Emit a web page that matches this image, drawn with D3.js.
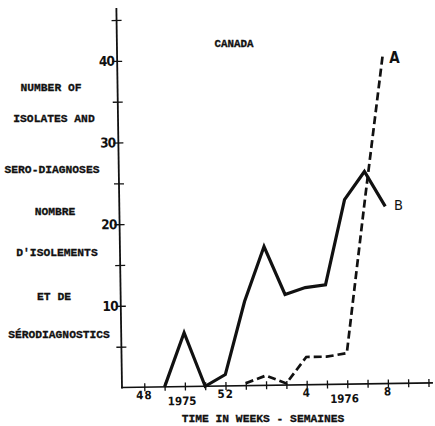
<!DOCTYPE html>
<html lang="en">
<head>
<meta charset="UTF-8">
<title>Canada</title>
<script src="https://cdn.jsdelivr.net/npm/d3@7"></script>
<style>
    body{ margin: 0; background: #fff; }
    .mono{ font-family: "Liberation Mono", "DejaVu Sans Mono", monospace; font-weight: bold; fill: #111; stroke: #111; stroke-width: 0.3; }
    .num{ font-family: "DejaVu Sans Condensed", "DejaVu Sans", sans-serif; font-weight: bold; fill: #111; }
</style>
</head>
<body>
<svg id="chart" width="435" height="426"></svg>
<script>
    // weeks along the x axis, 1975 wk 48 .. 1976 wk 10
    let weeks = ["48","49","50","51","52","1","2","3","4","5","6","7","8","9","10"]
    let weekLabels = ["48","52","4","8"]
    let yearWeeks = ["50","6"]
    let years = ["1975","1976"]

    // curve B (solid)
    let weeksB = ["49","50","51","52","1","2","3","4","5","6","7","8"]
    let countsB = [0, 6.6, 0, 1.4, 10.3, 17, 11.1, 11.9, 12.2, 22.6, 26, 21.7]
    // curve A (dashed)
    let weeksA = ["1","2","3","4","5","6","7","8"]
    let countsA = [0.3, 1.2, 0.2, 3.4, 3.4, 3.8, 22.5, 40.5]

    let yTicks = [5,10,15,20,25,30,35,40,45]
    let yLabels = [10,20,30,40]

    let leftLines = ["NUMBER OF","ISOLATES AND","SERO-DIAGNOSES","NOMBRE","D'ISOLEMENTS","ET DE","SÉRODIAGNOSTICS"]

    let svg = d3.select("#chart")
    let x0 = 122, y0 = 387.5

    let x = d3.scalePoint()
        .domain(weeks)
        .range([144.3, 428.5])
    let y = d3.scaleLinear()
        .domain([0, 45])
        .range([y0, 20])

    // the scan is tilted a little, so the plot is too
    let plot = svg.append("g")
        .attr("transform", `rotate(-0.85,${x0},${y0})`)

    // axes lines
    plot.append("line")
        .attr("x1", x0).attr("y1", y0 + 1)
        .attr("x2", x0).attr("y2", 8)
        .attr("stroke", "#111").attr("stroke-width", 1.8)
    plot.append("line")
        .attr("x1", x0 - 1).attr("y1", y0)
        .attr("x2", 433).attr("y2", y0)
        .attr("stroke", "#111").attr("stroke-width", 1.6)

    // x ticks
    let gx = plot.append("g")
        .attr("transform", `translate(0,${y0})`)
        .call(d3.axisBottom(x).tickSize(4).tickFormat(""))
    gx.select(".domain").remove()
    gx.selectAll(".tick line")
        .attr("y1", -4).attr("y2", 4)
        .attr("stroke", "#111").attr("stroke-width", 1.3)

    gx.selectAll("text.wk")
        .data(weekLabels)
        .join("text")
        .attr("class", "num wk")
        .attr("x", d => x(d))
        .attr("y", 12)
        .attr("text-anchor", "middle")
        .attr("font-size", 11.5)
        .attr("letter-spacing", 1)
        .text(d => d)

    gx.selectAll("text.yr")
        .data(years)
        .join("text")
        .attr("class", "num yr")
        .attr("x", (d, i) => x(yearWeeks[i]) - 3)
        .attr("y", 18.5)
        .attr("text-anchor", "middle")
        .attr("font-size", 11.5)
        .text(d => d)

    // y ticks
    let gy = plot.append("g")
        .attr("transform", `translate(${x0},0)`)
        .call(d3.axisLeft(y).tickValues(yTicks).tickSize(5).tickFormat(""))
    gy.select(".domain").remove()
    gy.selectAll(".tick line")
        .attr("x1", -5).attr("x2", 5)
        .attr("stroke", "#111").attr("stroke-width", 1.3)

    gy.selectAll("text.yl")
        .data(yLabels)
        .join("text")
        .attr("class", "num yl")
        .attr("x", -3)
        .attr("y", d => y(d) + 4.8)
        .attr("text-anchor", "end")
        .attr("font-size", 13.5)
        .attr("letter-spacing", -0.8)
        .text(d => d)

    // curves
    let line = d3.line()
        .x(d => x(d[0]))
        .y(d => y(d[1]))

    plot.append("path")
        .datum(d3.zip(weeksB, countsB))
        .attr("d", line)
        .attr("fill", "none")
        .attr("stroke", "#111")
        .attr("stroke-width", 3.2)
        .attr("stroke-linejoin", "miter")

    plot.append("path")
        .datum(d3.zip(weeksA, countsA))
        .attr("d", line)
        .attr("fill", "none")
        .attr("stroke", "#111")
        .attr("stroke-width", 2.7)
        .attr("stroke-dasharray", "8,4")

    // texts
    let leftX = [51, 54, 52, 55, 57, 54, 59]
    let leftY = [87, 118, 169, 211, 252, 296, 334]
    svg.selectAll("text.left")
        .data(leftLines)
        .join("text")
        .attr("class", "mono left")
        .attr("x", (d, i) => leftX[i])
        .attr("y", (d, i) => leftY[i] + 4)
        .attr("text-anchor", "middle")
        .attr("font-size", 11.3)
        .text(d => d)

    svg.append("text")
        .attr("class", "mono")
        .attr("x", 234).attr("y", 47)
        .attr("text-anchor", "middle")
        .attr("font-size", 10.8)
        .text("CANADA")

    svg.append("text")
        .attr("class", "mono")
        .attr("x", 263).attr("y", 422)
        .attr("text-anchor", "middle")
        .attr("font-size", 11.3)
        .text("TIME IN WEEKS - SEMAINES")

    svg.append("text")
        .attr("class", "num")
        .attr("x", 394.5).attr("y", 63)
        .attr("text-anchor", "middle")
        .attr("font-size", 15)
        .text("A")

    svg.append("text")
        .attr("class", "num")
        .attr("x", 398.5).attr("y", 210)
        .attr("text-anchor", "middle")
        .attr("font-size", 14.5)
        .style("font-weight", "normal")
        .text("B")
</script>
</body>
</html>
